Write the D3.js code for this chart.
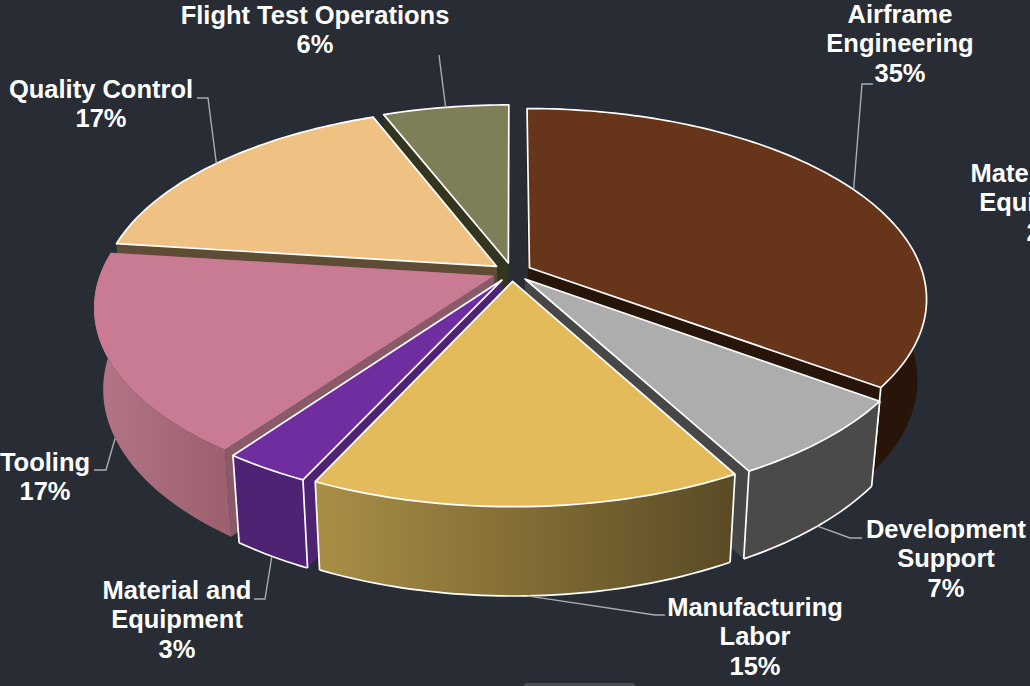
<!DOCTYPE html>
<html>
<head>
<meta charset="utf-8">
<script src="https://cdn.jsdelivr.net/npm/d3@7"></script>
<style>
  html, body { margin: 0; padding: 0; background: #282d35; overflow: hidden; }
  svg { display: block; }
  text { font-family: "Liberation Sans", Arial, sans-serif; font-weight: 700; font-size: 25.5px; fill: #fff; text-anchor: middle; }
</style>
</head>
<body>
<svg id="chart" width="1030" height="686"></svg>
<script>
// Cost breakdown shown as an exploded 3D pie.
const categories = ["Airframe Engineering", "Development Support", "Manufacturing Labor",
  "Material and Equipment", "Tooling", "Quality Control", "Flight Test Operations"];
const shares = [35, 7, 15, 3, 17, 17, 6];

const labelLines = [["Airframe", "Engineering"], ["Development", "Support"], ["Manufacturing", "Labor"],
  ["Material and", "Equipment"], ["Tooling"], ["Quality Control"], ["Flight Test Operations"]];
// Text centre and first baseline for each label.
const labelX = [900, 946, 755, 177, 45, 101, 315];
const labelY = [23, 538, 616, 599, 471, 98, 24];
// Leader lines: knee point, then the point next to the text.
const leaderKnee = [[862, 84], [850, 538], [655, 615], [265, 599], [106, 470], [208, 98], [439, 55]];
const leaderEnd = [[873, 84], [862, 538], [665, 615], [254, 599], [94, 470], [197, 98], [439, 55]];
// Label that runs off the right-hand edge of the page.
const clippedLabel = { lines: ["Material and", "Equipment", "2%"], x: 1045, y: 182 };

const topColors = ["#66351a", "#adadad", "#e3bb5b", "#6f2da0", "#c87b93", "#efc283", "#7e7f58"];
const wallColors = ["#27150a", "#4a4a4a", null, "#4f2373", null, "#5f4c35", "#34351f"];
const cutColors = ["#27150a", "#474747", "#5a4b26", "#4f2373", "#8a5a68", "#5f4c35", "#34351f"];
const gradientStops = { 2: ["#a98e45", "#5a4b26"], 4: ["#b47687", "#9c606f"] };
const paintOrder = [6, 5, 0, 4, 1, 3, 2];
const noRimStroke = [0, 4];
const noOutline = [4];

// Projection parameters for the tilted disc.
const view = { cx: 512, cy: 272, rx: 393, ry: 186, persp: 0.16, explode: 0.05, depth: 87, taper: 0.978, grow: 0.04 };

const svg = d3.select("#chart");
const defs = svg.append("defs");

const pie = d3.pie().value(d => d).sort(null).startAngle(0).endAngle(2 * Math.PI);
const arcs = pie(shares);

const sx = d3.scaleLinear().domain([-1, 1]).range([view.cx - view.rx, view.cx + view.rx]);
const sy = d3.scaleLinear().domain([-1, 1]).range([view.cy + view.ry, view.cy - view.ry]);

// Disc coordinates to screen, with the near side of the disc enlarged.
function project(u, v) {
  const den = 1 + view.persp * v;
  return [sx(u / den), sy(v / den)];
}
function pointOn(arc, angle, radius) {
  const mid = (arc.startAngle + arc.endAngle) / 2;
  const u = radius * Math.sin(angle) + view.explode * Math.sin(mid);
  const v = radius * Math.cos(angle) + view.explode * Math.cos(mid);
  return project(u, v);
}
function lower(p) {
  return [view.cx + (p[0] - view.cx) * view.taper, p[1] + view.depth + (p[1] - 450) * view.grow];
}
function rimAngles(arc) {
  const n = Math.max(8, Math.ceil((arc.endAngle - arc.startAngle) / 0.02));
  return d3.range(n + 1).map(i => arc.startAngle + (arc.endAngle - arc.startAngle) * i / n);
}
const line = d3.line();
const closed = d3.line().curve(d3.curveLinearClosed);
const nearSide = a => Math.cos(a) < 0.1;

const marks = svg.append("g");
const edgeColor = "#fff";
const edgeWidth = 1.7;

paintOrder.forEach(i => {
  const arc = arcs[i];
  const angles = rimAngles(arc);
  const rim = angles.map(a => pointOn(arc, a, 1));
  const rimLow = rim.map(lower);
  const apex = pointOn(arc, arc.startAngle, 0);
  const apexLow = lower(apex);
  const g = marks.append("g").attr("class", "slice").attr("data-name", categories[i]);

  // cut faces
  [rim[0], rim[rim.length - 1]].forEach(p => {
    g.append("path").attr("d", closed([apex, p, lower(p), apexLow])).attr("fill", cutColors[i]);
  });

  // outer wall
  let wallFill = wallColors[i];
  if (gradientStops[i]) {
    const xs = d3.extent(rim, p => p[0]);
    const grad = defs.append("linearGradient").attr("id", "wall" + i)
      .attr("gradientUnits", "userSpaceOnUse")
      .attr("x1", xs[0]).attr("x2", xs[1]).attr("y1", 0).attr("y2", 0);
    grad.append("stop").attr("offset", 0).attr("stop-color", gradientStops[i][0]);
    grad.append("stop").attr("offset", 1).attr("stop-color", gradientStops[i][1]);
    wallFill = "url(#wall" + i + ")";
  }
  g.append("path").attr("d", closed(rim.concat(rimLow.slice().reverse()))).attr("fill", wallFill);

  // white edges, only where the wall faces the viewer
  if (!noOutline.includes(i)) {
    [0, rim.length - 1].filter(k => nearSide(angles[k])).forEach(k => {
      g.append("path").attr("d", line([rim[k], rimLow[k]])).attr("fill", "none")
        .attr("stroke", edgeColor).attr("stroke-width", edgeWidth);
    });
  }
  if (!noRimStroke.includes(i)) {
    const visible = rimLow.filter((p, k) => nearSide(angles[k]));
    if (visible.length > 1) {
      g.append("path").attr("d", line(visible)).attr("fill", "none")
        .attr("stroke", edgeColor).attr("stroke-width", edgeWidth);
    }
  }

  // top face
  g.append("path")
    .attr("d", closed([apex].concat(rim)))
    .attr("fill", topColors[i])
    .attr("stroke", noOutline.includes(i) ? "none" : edgeColor)
    .attr("stroke-width", edgeWidth)
    .attr("stroke-linejoin", "round");
});

// Leader lines start on the rim at each slice's mid angle; near-side slices use the lower rim.
const leaders = svg.append("g").attr("fill", "none").attr("stroke", "#a9abae").attr("stroke-width", 1.4);
arcs.forEach((arc, i) => {
  const mid = (arc.startAngle + arc.endAngle) / 2;
  let start = pointOn(arc, mid, 1);
  if (Math.cos(mid) < 0) start = lower(start);
  leaders.append("path").attr("d", line([start, leaderKnee[i], leaderEnd[i]]));
});

// Labels
const labels = svg.append("g");
const lineStep = 29.3;
categories.forEach((name, i) => {
  const lines = labelLines[i].concat(shares[i] + "%");
  const t = labels.append("text").attr("x", labelX[i]).attr("y", labelY[i]);
  lines.forEach((s, k) => t.append("tspan").attr("x", labelX[i]).attr("dy", k ? lineStep : 0).text(s));
});
const extra = labels.append("text").attr("x", clippedLabel.x).attr("y", clippedLabel.y);
clippedLabel.lines.forEach((s, k) => extra.append("tspan").attr("x", clippedLabel.x).attr("dy", k ? lineStep : 0).text(s));

// Handle peeking in at the bottom edge.
svg.append("rect").attr("x", 524).attr("y", 683).attr("width", 111).attr("height", 8).attr("rx", 3).attr("fill", "#4d4e51");
</script>
</body>
</html>
